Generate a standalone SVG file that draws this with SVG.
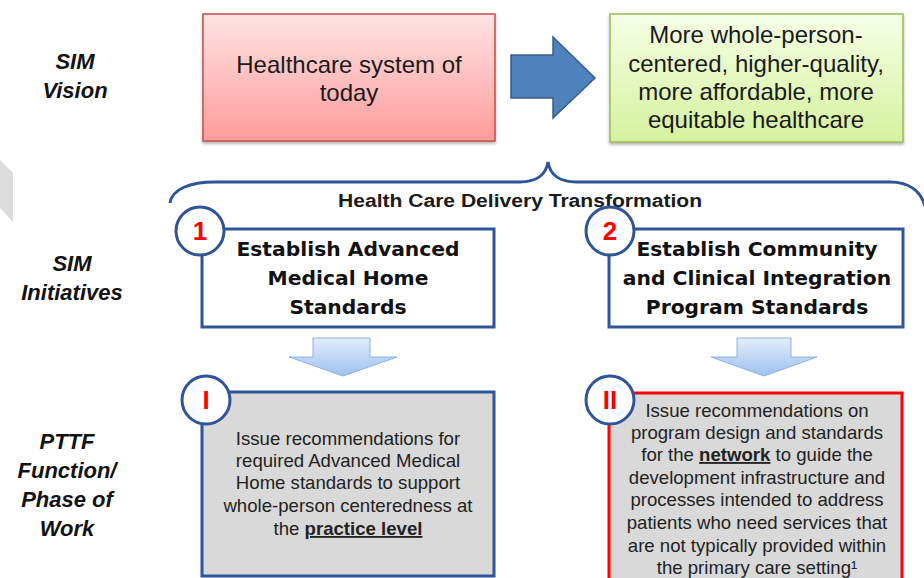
<svg xmlns="http://www.w3.org/2000/svg" width="924" height="578" viewBox="0 0 924 578">
  <defs>
    <linearGradient id="gRed" x1="0" y1="0" x2="0" y2="1">
      <stop offset="0" stop-color="#ffe3e3"/>
      <stop offset="1" stop-color="#ff9b9b"/>
    </linearGradient>
    <linearGradient id="gGreen" x1="0" y1="0" x2="0" y2="1">
      <stop offset="0" stop-color="#f6ffe6"/>
      <stop offset="1" stop-color="#d5f29e"/>
    </linearGradient>
    <linearGradient id="gDown" x1="0" y1="0" x2="0" y2="1">
      <stop offset="0" stop-color="#e2edfb"/>
      <stop offset="1" stop-color="#9fc1ef"/>
    </linearGradient>
    <filter id="shadow" x="-10%" y="-10%" width="120%" height="130%">
      <feDropShadow dx="0" dy="2" stdDeviation="1.5" flood-color="#000" flood-opacity="0.3"/>
    </filter>
  </defs>
  <style>
    .lbl { font-family: "Liberation Sans", Arial, sans-serif; font-weight: bold; font-style: italic; font-size: 22px; fill: #111; text-anchor: middle; }
    .big { font-family: "Liberation Sans", Arial, sans-serif; font-size: 24px; fill: #1a1a1a; text-anchor: middle; }
    .init { font-family: "DejaVu Sans", Verdana, sans-serif; font-weight: bold; font-size: 20.3px; fill: #111; text-anchor: middle; }
    .body { font-family: "Liberation Sans", Arial, sans-serif; font-size: 18.6px; fill: #222; text-anchor: middle; }
    .em { font-weight: bold; text-decoration: underline; }
    .frame { fill: #ffffff; stroke: #2f5597; stroke-width: 3; }
    .grey { fill: #d9d9d9; stroke: #2f5597; stroke-width: 3; }
    .badge { fill: #ffffff; stroke: #2f5597; stroke-width: 3; }
    .num { font-family: "Liberation Sans", Arial, sans-serif; font-weight: bold; font-size: 26px; fill: #ff0000; text-anchor: middle; }
    .down { fill: url(#gDown); stroke: #8fb0dc; stroke-width: 1; }
  </style>

  <!-- partial grey chevron at the left margin -->
  <polygon points="0,160 13,173 13,222 0,208" fill="#dcdcdc"/>

  <!-- row labels -->
  <g id="label-vision">
    <text class="lbl" x="75" y="69">SIM</text>
    <text class="lbl" x="75" y="98">Vision</text>
  </g>
  <g id="label-initiatives">
    <text class="lbl" x="72" y="271">SIM</text>
    <text class="lbl" x="72" y="300">Initiatives</text>
  </g>
  <g id="label-pttf">
    <text class="lbl" x="67" y="449">PTTF</text>
    <text class="lbl" x="67" y="478">Function/</text>
    <text class="lbl" x="67" y="507">Phase of</text>
    <text class="lbl" x="67" y="536">Work</text>
  </g>

  <!-- vision boxes -->
  <g id="today">
    <rect x="203" y="14" width="292" height="127" fill="url(#gRed)" stroke="#c0504d" stroke-width="1.5" filter="url(#shadow)"/>
    <text class="big" x="349" y="73">Healthcare system of</text>
    <text class="big" x="349" y="101">today</text>
  </g>
  <g id="future">
    <rect x="610" y="14" width="293" height="128" fill="url(#gGreen)" stroke="#9bbb59" stroke-width="1.5" filter="url(#shadow)"/>
    <text class="big" x="756" y="43">More whole-person-</text>
    <text class="big" x="756" y="72">centered, higher-quality,</text>
    <text class="big" x="756" y="100">more affordable, more</text>
    <text class="big" x="756" y="128">equitable healthcare</text>
  </g>

  <!-- connectors: block arrows and grouping brace -->
  <g id="connectors">
    <polygon points="511,55 553,55 553,37 595,78 553,118 553,98 511,98" fill="#4f81bd" stroke="#385d8a" stroke-width="1.5"/>
    <path d="M170,203 C172,189 190,182 215,182 L520,182 C536,182 546,175 548,162 C550,175 560,182 576,182 L890,182 C910,182 921,192 925,206" fill="none" stroke="#2f5597" stroke-width="3"/>
    <polygon class="down" points="313,338 370,338 370,357 397,357 343,376 289,357 313,357"/>
    <polygon class="down" points="737,338 791,338 791,357 817,357 764,376 711,357 737,357"/>
  </g>

  <text id="transformation" x="520" y="207" font-family="'Liberation Sans', Arial, sans-serif" font-weight="bold" font-size="18px" fill="#1a1a1a" text-anchor="middle" textLength="364" lengthAdjust="spacingAndGlyphs">Health Care Delivery Transformation</text>

  <!-- initiatives -->
  <g id="initiative-1">
    <rect class="frame" x="202" y="229" width="292" height="98"/>
    <circle class="badge" cx="200" cy="231" r="24"/>
    <text class="num" x="200" y="240">1</text>
    <text class="init" x="348" y="256">Establish Advanced</text>
    <text class="init" x="348" y="285">Medical Home</text>
    <text class="init" x="348" y="314">Standards</text>
  </g>
  <g id="initiative-2">
    <rect class="frame" x="609" y="229" width="294" height="98"/>
    <circle class="badge" cx="610" cy="231" r="24"/>
    <text class="num" x="610" y="240">2</text>
    <text class="init" x="757" y="256">Establish Community</text>
    <text class="init" x="757" y="285">and Clinical Integration</text>
    <text class="init" x="757" y="314">Program Standards</text>
  </g>

  <!-- phases of work -->
  <g id="phase-1">
    <rect class="grey" x="202" y="392" width="292" height="184"/>
    <circle class="badge" cx="206" cy="400" r="24"/>
    <text class="num" x="206" y="409">I</text>
    <text class="body" x="348" y="445">Issue recommendations for</text>
    <text class="body" x="348" y="467">required Advanced Medical</text>
    <text class="body" x="348" y="489">Home standards to support</text>
    <text class="body" x="348" y="512">whole-person centeredness at</text>
    <text class="body" x="348" y="535">the <tspan class="em">practice level</tspan></text>
  </g>
  <g id="phase-2">
    <rect x="609" y="393" width="293" height="200" fill="#d9d9d9" stroke="#ff0000" stroke-width="3"/>
    <circle class="badge" cx="610" cy="400" r="24"/>
    <text class="num" x="610" y="409">II</text>
    <text class="body" x="757" y="417">Issue recommendations on</text>
    <text class="body" x="757" y="439">program design and standards</text>
    <text class="body" x="757" y="461">for the <tspan class="em">network</tspan> to guide the</text>
    <text class="body" x="757" y="484">development infrastructure and</text>
    <text class="body" x="757" y="506">processes intended to address</text>
    <text class="body" x="757" y="529">patients who need services that</text>
    <text class="body" x="757" y="552">are not typically provided within</text>
    <text class="body" x="757" y="574">the primary care setting¹</text>
  </g>
</svg>
